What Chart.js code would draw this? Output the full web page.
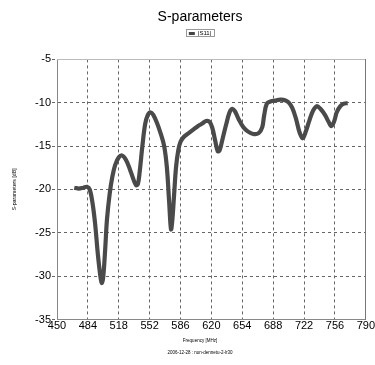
<!DOCTYPE html>
<html>
<head>
<meta charset="utf-8">
<script src="https://cdn.jsdelivr.net/npm/chart.js@4"></script>
<style>
html,body{margin:0;padding:0;background:#fff;}
canvas{display:block;}
</style>
</head>
<body>
<canvas id="c" width="375" height="365"></canvas>
<script>
// ---- data ----
const seriesName = '|S11|';
const freqMHz = [469,474,479,483,486,489,492,495,498,499.5,501,503,505,508,511,514,518,522,526,530,534,537,539,541,544,547,550,553,556,560,564,568,571,573.5,575.5,577,579,581,583.5,586,590,595,600,605,610,614,618,621,624,627,629,632,636,640,643,646,650,655,660,666,672,676,678,681,685,690,696,701,705,709,713,717,720.5,724,728,732,736,740,745,749,752,755,758,762,766,770];
const s11dB = [-19.8,-19.9,-19.8,-19.7,-20.0,-21.5,-24,-27.5,-30.2,-30.8,-30,-27,-23.5,-20.5,-18.5,-17.2,-16.3,-16.1,-16.6,-17.6,-18.8,-19.5,-19.4,-18,-15,-12.5,-11.4,-11.1,-11.4,-12.3,-13.5,-15,-17.5,-21.5,-24.6,-23.5,-20.5,-17.5,-15.5,-14.5,-13.9,-13.5,-13.1,-12.7,-12.4,-12.1,-12.2,-12.9,-14.3,-15.6,-15.5,-14.3,-12.6,-11.1,-10.7,-11.0,-11.9,-12.8,-13.3,-13.6,-13.5,-12.8,-11.5,-10.1,-9.85,-9.75,-9.65,-9.7,-9.95,-10.6,-11.8,-13.4,-14.1,-13.3,-12.0,-10.9,-10.4,-10.7,-11.4,-12.2,-12.7,-12.2,-11.1,-10.4,-10.1,-10.05];
const xTicks = [450,484,518,552,586,620,654,688,722,756,790];
const yTicks = [-35,-30,-25,-20,-15,-10,-5];
const titleText = 'S-parameters';
const xTitle = 'Frequency [MHz]';
const yTitle = 'S-parameters [dB]';
const footText = '2006-12-28 : non-dennetu-2-lr30';

const FONT = "'Liberation Sans', Arial, sans-serif";

const legendBorder = {
  id: 'legendBorder',
  afterDraw(chart) {
    const lg = chart.legend;
    if (!lg || !lg.legendHitBoxes || !lg.legendHitBoxes.length) return;
    const hb = lg.legendHitBoxes[0];
    const ctx = chart.ctx;
    ctx.save();
    ctx.strokeStyle = '#999';
    ctx.lineWidth = 1;
    ctx.strokeRect(Math.round(hb.left - 3) + 0.5, Math.round(hb.top - 1) + 0.5, Math.round(hb.width + 6), Math.round(hb.height + 1));
    ctx.restore();
  }
};

const edgeTransparent = (ctx, first, last) => {
  const v = ctx.tick && ctx.tick.value;
  return (v === first || v === last) ? 'rgba(0,0,0,0)' : '#666';
};

new Chart(document.getElementById('c'), {
  type: 'line',
  data: {
    datasets: [{
      label: seriesName,
      data: freqMHz.map((f, i) => ({x: f, y: s11dB[i]})),
      borderColor: '#4a4a4a',
      backgroundColor: '#444',
      borderWidth: 4.2,
      pointRadius: 0,
      tension: 0.35,
      fill: false,
      xAxisID: 'x',
      yAxisID: 'y'
    }]
  },
  options: {
    responsive: false,
    devicePixelRatio: 1,
    animation: false,
    layout: {padding: {left: 25, right: 0, top: 0, bottom: 6}},
    plugins: {
      title: {
        display: true,
        text: titleText,
        color: '#000',
        font: {family: FONT, size: 14, weight: 'normal'},
        padding: {top: 8.6, bottom: 3}
      },
      subtitle: {
        display: true,
        position: 'bottom',
        text: [xTitle, footText],
        color: '#000',
        font: {family: FONT, size: 4.5, weight: 'normal', lineHeight: 2.67},
        padding: {top: 1.5, bottom: 0}
      },
      legend: {
        display: true,
        position: 'top',
        labels: {
          color: '#000',
          font: {family: FONT, size: 6},
          boxWidth: 6,
          boxHeight: 3,
          padding: 2,
          generateLabels: (chart) => Chart.defaults.plugins.legend.labels.generateLabels(chart)
            .map(l => Object.assign(l, {lineWidth: 0, fillStyle: '#444'}))
        }
      },
      tooltip: {enabled: false}
    },
    scales: {
      x: {
        type: 'linear',
        position: 'bottom',
        min: 450, max: 790,
        afterBuildTicks: (s) => { s.ticks = xTicks.map(v => ({value: v})); },
        afterFit: (s) => { s.height = 14; },
        ticks: {color: '#000', font: {family: FONT, size: 11}, padding: 0, maxRotation: 0, autoSkip: false,
                callback: (v) => String(v)},
        grid: {color: (c) => edgeTransparent(c, 450, 790), lineWidth: 1, drawTicks: false},
        border: {display: true, color: '#888', width: 1, dash: [3, 3]}
      },
      y: {
        type: 'linear',
        position: 'left',
        min: -35, max: -5,
        afterBuildTicks: (s) => { s.ticks = yTicks.map(v => ({value: v})); },
        afterFit: (s) => { s.width = 32; },
        ticks: {color: '#000', font: {family: FONT, size: 11}, padding: 1, callback: (v) => String(v)},
        grid: {color: (c) => edgeTransparent(c, -35, -5), tickBorderDash: [3, 3], tickColor: '#666', tickLength: 5, lineWidth: 1, drawTicks: true},
        border: {display: true, color: '#888', width: 1, dash: [3, 3]},
        title: {display: true, text: yTitle, color: '#000', font: {family: FONT, size: 5.2}, padding: {top: -13.5, bottom: 0}}
      },
      xTop: {
        type: 'linear',
        position: 'top',
        min: 0, max: 1,
        afterFit: (s) => { s.height = 13; },
        ticks: {display: false},
        grid: {display: false},
        border: {display: true, color: '#bbb', width: 1}
      },
      yRight: {
        type: 'linear',
        position: 'right',
        min: 0, max: 1,
        afterFit: (s) => { s.width = 7; },
        ticks: {display: false},
        grid: {display: false},
        border: {display: true, color: '#777', width: 1}
      }
    }
  },
  plugins: [legendBorder]
});
</script>
</body>
</html>
